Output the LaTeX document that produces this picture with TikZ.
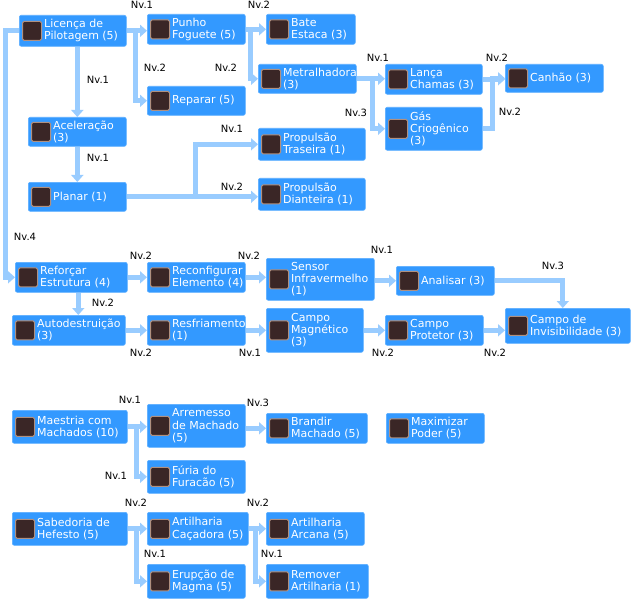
\documentclass[tikz,border=0pt]{standalone}
\usepackage{fontspec}
\setmainfont{DejaVu Sans}
\usetikzlibrary{arrows.meta,calc}
\pgfdeclarelayer{bg}
\pgfsetlayers{bg,main}
\definecolor{boxc}{HTML}{3399FF}
\definecolor{boxe}{HTML}{5AAEFF}
\definecolor{conc}{HTML}{99CCFF}
\definecolor{icof}{HTML}{3A2626}
\definecolor{icoe}{HTML}{B09080}
\tikzset{
 box/.style={fill=boxc,draw=boxe,line width=0.6pt,rounded corners=2pt,anchor=north west,inner sep=0pt},
 txt/.style={anchor=west,text=white,align=left,inner sep=0pt,font=\fontsize{11}{12.3}\selectfont},
 ico/.style={fill=icof,draw=icoe,line width=1pt,rounded corners=1.5pt,minimum size=19pt,inner sep=0pt},
 con/.style={draw=conc,line width=5pt,-{Triangle[width=12pt,length=7pt]}},
 lab/.style={font=\fontsize{10}{11}\selectfont,inner sep=0pt}
}
\newcommand\sk[6]{%
 \node[box,minimum width={(#4-#2)*1pt},minimum height={(#5-#3)*1pt}] (#1) at (#2,#3) {};
 \node[ico] (#1-i) at ([xshift=13pt]#1.west) {};
 \node[txt] (#1-t) at ([xshift=25pt]#1.west) {#6};}
\begin{document}
\begin{tikzpicture}[x=1pt,y=-1pt]
\begin{pgfonlayer}{bg}
\fill[white] (0,0) rectangle (632,599);
\end{pgfonlayer}
\useasboundingbox (0,0) rectangle (632,599);
\sk{lic}{19}{15}{126}{46}{Licença de\\Pilotagem (5)}
\sk{pun}{147}{14}{245}{44}{Punho\\Foguete (5)}
\sk{bat}{266}{14}{355}{44}{Bate\\Estaca (3)}
\sk{met}{258}{64}{356}{93}{Metralhadora\\(3)}
\sk{rep}{147}{86}{245}{115}{Reparar (5)}
\sk{lan}{385}{64}{482}{94}{Lança\\Chamas (3)}
\sk{can}{505}{64}{603}{92}{Canhão (3)}
\sk{gas}{385}{107}{482}{150}{Gás\\Criogênico\\(3)}
\sk{acc}{28}{117}{126}{146}{Aceleração\\(3)}
\sk{pla}{28}{182}{126}{211}{Planar (1)}
\sk{ptr}{258}{128}{365}{160}{Propulsão\\Traseira (1)}
\sk{pdi}{258}{178}{365}{210}{Propulsão\\Dianteira (1)}
\sk{ref}{15}{262}{127}{292}{Reforçar\\Estrutura (4)}
\sk{rec}{147}{262}{245}{292}{Reconfigurar\\Elemento (4)}
\sk{sen}{266}{258}{374}{300}{Sensor\\Infravermelho\\(1)}
\sk{ana}{396}{266}{494}{295}{Analisar (3)}
\sk{inv}{505}{308}{630}{343}{Campo de\\Invisibilidade (3)}
\sk{aut}{12}{315}{125}{345}{Autodestruição\\(3)}
\sk{res}{147}{315}{245}{345}{Resfriamento\\(1)}
\sk{mag}{266}{308}{363}{352}{Campo\\Magnético\\(3)}
\sk{pro}{385}{315}{483}{345}{Campo\\Protetor (3)}
\sk{mae}{12}{410}{127}{443}{Maestria com\\Machados (10)}
\sk{arr}{147}{404}{245}{447}{Arremesso\\de Machado\\(5)}
\sk{bra}{266}{413}{367}{443}{Brandir\\Machado (5)}
\sk{max}{386}{413}{484}{443}{Maximizar\\Poder (5)}
\sk{fur}{147}{460}{245}{493}{Fúria do\\Furacão (5)}
\sk{sab}{12}{512}{127}{545}{Sabedoria de\\Hefesto (5)}
\sk{cac}{147}{512}{248}{545}{Artilharia\\Caçadora (5)}
\sk{arc}{266}{512}{364}{545}{Artilharia\\Arcana (5)}
\sk{eru}{147}{564}{245}{598}{Erupção de\\Magma (5)}
\sk{rem}{266}{564}{368}{598}{Remover\\Artilharia (1)}
\begin{pgfonlayer}{bg}
\draw[con] (lic.east) -- (pun.west |- lic.east);
\draw[con] (lic.east) -- ++(9,0) |- (rep.west);
\draw[con] (acc.north |- lic.south) -- (acc.north);
\draw[con] (lic.west) -- ++(-14,0) |- (ref.west);
\draw[con] (acc.south) -- (pla.north);
\draw[con] (pla.east) -- ++(69,0) |- (ptr.west);
\draw[con] (pla.east) -- (pdi.west |- pla.east);
\draw[con] (pun.east) -- (bat.west |- pun.east);
\draw[con] (pun.east) -- ++(5,0) |- (met.west);
\draw[con] (met.east) -- (lan.west |- met.east);
\draw[con] (met.east) -- ++(16,0) |- (gas.west);
\draw[con] (lan.east) -- (can.west |- lan.east);
\draw[con] (gas.east) -- ++(10,0) |- (can.west);
\draw[con] (rec.west -| ref.east) -- (rec.west);
\draw[con] ([xshift=7pt]ref.south) -- ([xshift=7pt]ref.south |- aut.north);
\draw[con] (rec.east) -- (sen.west |- rec.east);
\draw[con] (sen.east |- ana.west) -- (ana.west);
\draw[con] (ana.east) -| ([xshift=-5pt]inv.north);
\draw[con] (aut.east) -- (res.west |- aut.east);
\draw[con] (res.east) -- (mag.west |- res.east);
\draw[con] (mag.east |- pro.west) -- (pro.west);
\draw[con] (pro.east) -- (inv.west |- pro.east);
\draw[con] (mae.east) -- (arr.west |- mae.east);
\draw[con] (mae.east) -- ++(9,0) |- (fur.west);
\draw[con] (arr.east |- bra.west) -- (bra.west);
\draw[con] (sab.east) -- (cac.west |- sab.east);
\draw[con] (sab.east) -- ++(9,0) |- (eru.west);
\draw[con] (cac.east) -- (arc.west |- cac.east);
\draw[con] (cac.east) -- ++(7,0) |- (rem.west);
\end{pgfonlayer}
\node[lab] (n1) at (142,5) {Nv.1};
\node[lab] (n2) at (259,5) {Nv.2};
\node[lab] (n3) at (155,68) {Nv.2};
\node[lab] (n4) at (226,68) {Nv.2};
\node[lab] (n5) at (98,80) {Nv.1};
\node[lab] (n6) at (378,58) {Nv.1};
\node[lab] (n7) at (497,58) {Nv.2};
\node[lab] (n8) at (356,113) {Nv.3};
\node[lab] (n9) at (510,112) {Nv.2};
\node[lab] (n10) at (232,129) {Nv.1};
\node[lab] (n11) at (98,158) {Nv.1};
\node[lab] (n12) at (232,187) {Nv.2};
\node[lab] (n13) at (25,237) {Nv.4};
\node[lab] (n14) at (141,256) {Nv.2};
\node[lab] (n15) at (249,256) {Nv.2};
\node[lab] (n16) at (382,250) {Nv.1};
\node[lab] (n17) at (553,266) {Nv.3};
\node[lab] (n18) at (103,303) {Nv.2};
\node[lab] (n19) at (141,353) {Nv.2};
\node[lab] (n20) at (250,353) {Nv.1};
\node[lab] (n21) at (383,353) {Nv.2};
\node[lab] (n22) at (495,353) {Nv.2};
\node[lab] (n23) at (130,400) {Nv.1};
\node[lab] (n24) at (258,403) {Nv.3};
\node[lab] (n25) at (116,476) {Nv.1};
\node[lab] (n26) at (136,503) {Nv.2};
\node[lab] (n27) at (258,503) {Nv.2};
\node[lab] (n28) at (155,554) {Nv.1};
\node[lab] (n29) at (272,554) {Nv.1};
\end{tikzpicture}
\end{document}
